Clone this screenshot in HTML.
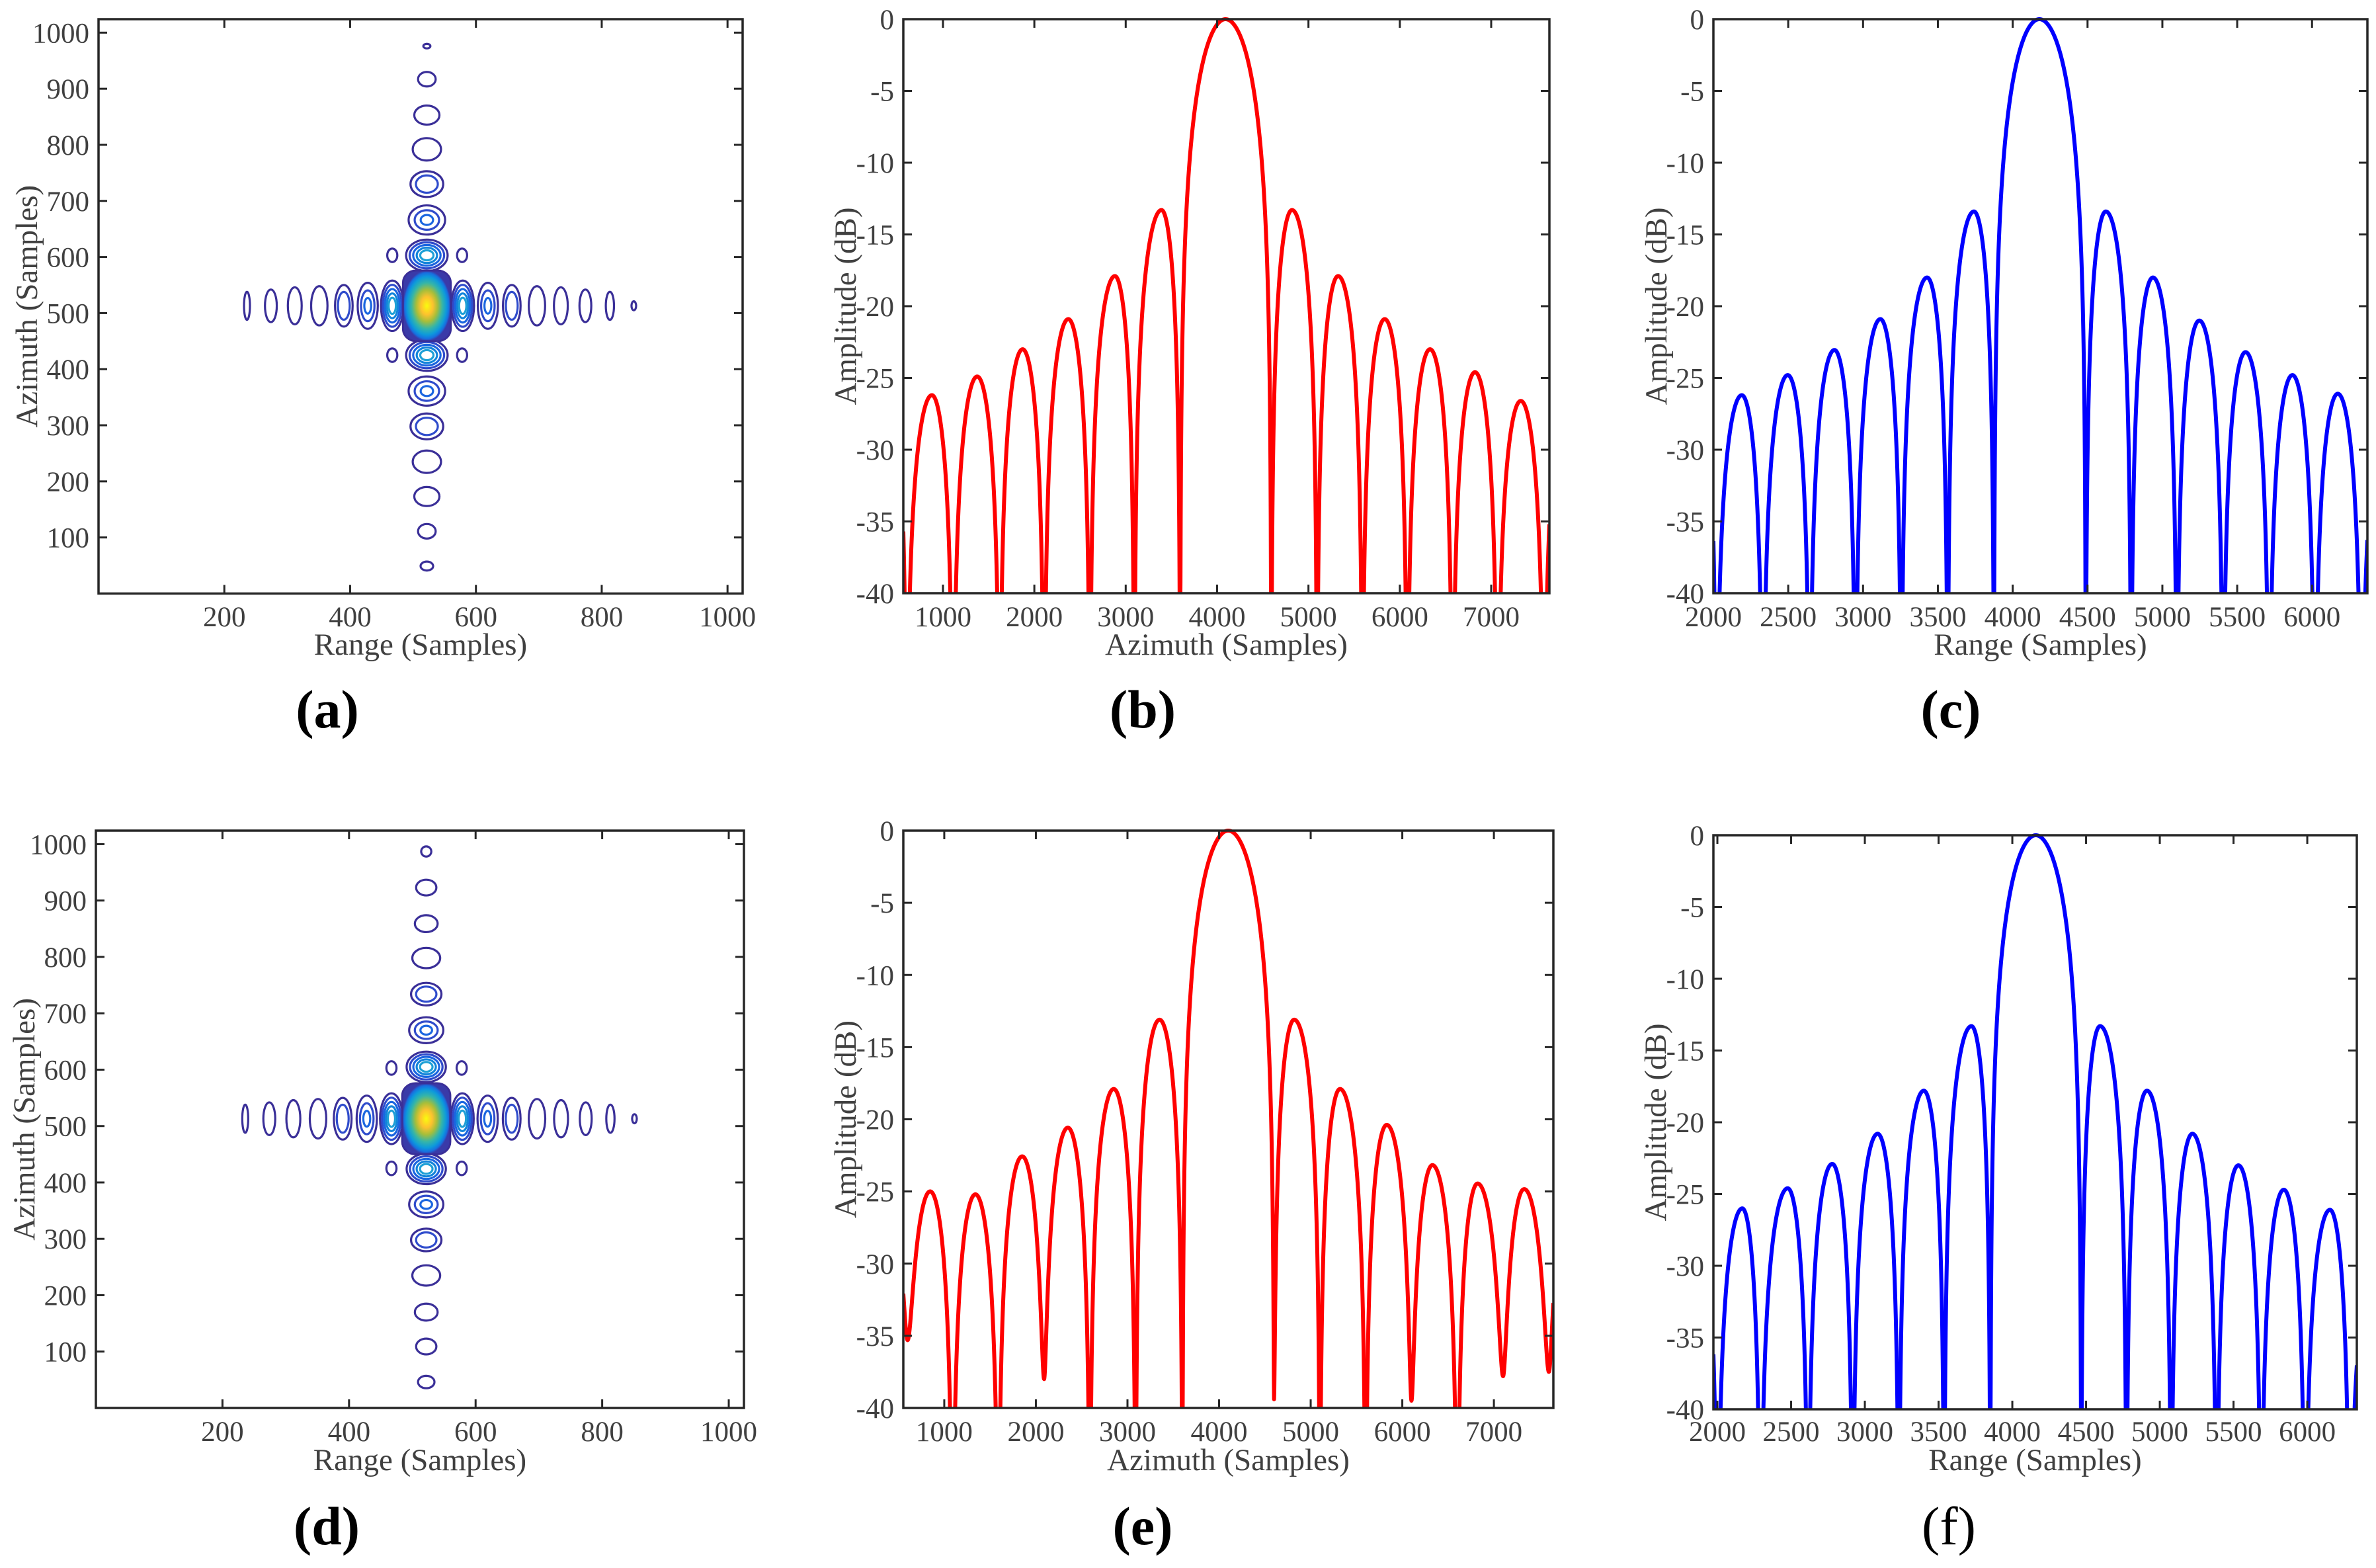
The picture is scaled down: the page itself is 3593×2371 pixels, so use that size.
<!DOCTYPE html>
<html><head><meta charset="utf-8">
<style>
html,body{margin:0;padding:0;background:#fff;}
svg{display:block;}
text{font-family:"Liberation Serif",serif;}
.tick{font-size:43px;fill:#404040;}
.title{font-size:47px;fill:#404040;}
.plabel{font-size:82px;fill:#000;}
</style></head>
<body>
<svg id="fig" width="3593" height="2371" viewBox="0 0 3593 2371" xmlns="http://www.w3.org/2000/svg">
<defs>
<radialGradient id="blobGrad" cx="50%" cy="50%" r="50%">
<stop offset="0" stop-color="#f9fb0e"/>
<stop offset="0.25" stop-color="#fdc22e"/>
<stop offset="0.45" stop-color="#a6be3a"/>
<stop offset="0.65" stop-color="#35b5a8"/>
<stop offset="0.82" stop-color="#0d9adb"/>
<stop offset="0.93" stop-color="#1770e0"/>
<stop offset="1" stop-color="#3a3aa8"/>
</radialGradient>
</defs>
</svg>
<script>
// ---------- data: contour panels ----------
const hX     = [236,274,312,351,390,428,467,579,619,657,697,735,774,813,851];
const hRx    = [4.7,9.4,11,13,14,16,18,18,16,14,13,11,9.4,6.5,3.7];
const hRy    = [25,29,33,35,37,41,45,45,41,37,35,33,29,25,8];
const hRings = [1,1,1,1,2,3,5,5,3,2,1,1,1,1,1];
const vY     = [976,917,853,792,730,666,603,425,361,298,235,173,111,49];
const vRx    = [5.6,14,20,22.5,26,29,33,33,29,26,22.5,20,14,10];
const vRy    = [4.1,13,17,20,23,26,28,28,26,23,20,17,13,8];
const vRings = [1,1,1,1,2,3,5,5,3,2,1,1,1,1];
const vYd    = [987,923,859,798,734,670,605,424,361,298,235,170,109,46];
const vRxD   = [8,16,18,22,24,27,31,31,27,24,22,18,16,13];
const vRyD   = [9,14,15,18,20,23,27,27,23,20,18,15,14,11];
const diagX  = [467,578,467,578];
const diagY  = [603,603,425,425];
const centerPt = [522,513];

// ---------- data: cut profiles ----------
const bNulls = [91,601,1111,1621,2108,2609,3095,3596,4593,5094,5590,6081,6577,7069,7579,8090];
const bPeakX = [346,879,1375,1872,2372,2882,3392,4092,4820,5325,5835,6331,6823,7324,7830];
const bPeakDb= [-22.3,-26.2,-24.9,-23.0,-20.9,-17.9,-13.3,0,-13.3,-17.9,-20.9,-23.0,-24.6,-26.6,-26.2];
const eNulls = [100,600,1090,1590,2090,2590,3090,3600,4600,5100,5600,6100,6600,7100,7600,8100];
const eNullDb= [-60,-35.3,-60,-60,-38,-60,-60,-60,-39.4,-60,-60,-39.5,-60,-37.8,-37.5,-60];
const ePeakX = [350,850,1340,1850,2350,2850,3350,4100,4820,5320,5830,6330,6820,7330,7850];
const ePeakDb= [-24,-25.1,-25.2,-22.6,-20.6,-17.9,-13.1,0,-13.1,-17.9,-20.4,-23.2,-24.5,-24.9,-24];
const cNulls = [1709,2019,2331,2644,2950,3256,3566,3875,4488,4791,5097,5406,5713,6019,6331,6641];
const cPeakX = [1864,2190,2497,2809,3116,3428,3741,4178,4622,4937,5247,5556,5869,6172,6486];
const cPeakDb= [-22,-26.2,-24.8,-23.05,-20.9,-18.0,-13.4,0,-13.4,-18.0,-21.0,-23.2,-24.8,-26.1,-28];
const fNulls = [1690,2000,2292,2615,2918,3231,3538,3851,4467,4774,5077,5385,5687,5985,6287,6590];
const fPeakX = [1845,2169,2477,2779,3087,3400,3723,4159,4595,4913,5221,5533,5841,6154,6440];
const fPeakDb= [-24.8,-26.0,-24.6,-22.9,-20.8,-17.8,-13.3,0,-13.3,-17.8,-20.8,-23.0,-24.7,-26.1,-30.6];

const ampTicks = [0,-5,-10,-15,-20,-25,-30,-35,-40];
const sampTicks = [200,400,600,800,1000];
const sampYTicks = [100,200,300,400,500,600,700,800,900,1000];
const azTicks = [1000,2000,3000,4000,5000,6000,7000];
const rgTicks = [2000,2500,3000,3500,4000,4500,5000,5500,6000];

const NS = "http://www.w3.org/2000/svg";
const svg = document.getElementById('fig');
function el(tag, attrs, parent){
  const e = document.createElementNS(NS, tag);
  for (const k in attrs) e.setAttribute(k, attrs[k]);
  (parent||svg).appendChild(e);
  return e;
}
function makeScale(p){
  return {
    x: v => p.L + (v - p.xmin) / (p.xmax - p.xmin) * (p.R - p.L),
    y: v => p.B - (v - p.ymin) / (p.ymax - p.ymin) * (p.B - p.T),
    p: p
  };
}
function drawAxes(g, s, xt, yt, xTitle, yTitle, yTitleX, xLabY, xTitleY, yLabGap){
  const p = s.p;
  const tl = 13;
  xt.forEach(v=>{
    const x = s.x(v);
    const t1 = el('line',{x1:x,y1:p.B,x2:x,y2:p.B-tl,stroke:'#262626','stroke-width':3},g);
    
    
    const t2 = el('line',{x1:x,y1:p.T,x2:x,y2:p.T+tl,stroke:'#262626','stroke-width':3},g);
    
    
    const tx = el('text',{x:x,y:xLabY,'text-anchor':'middle',class:'tick'},g);
    
    
    tx.textContent = v;
  });
  yt.forEach(v=>{
    const y = s.y(v);
    const t1 = el('line',{x1:p.L,y1:y,x2:p.L+tl,y2:y,stroke:'#262626','stroke-width':3},g);
    
    
    const t2 = el('line',{x1:p.R,y1:y,x2:p.R-tl,y2:y,stroke:'#262626','stroke-width':3},g);
    
    
    const tx = el('text',{x:p.L-yLabGap,y:y+15,'text-anchor':'end',class:'tick'},g);
    
    
    tx.textContent = v;
  });
  const box = el('rect',{x:p.L,y:p.T,width:p.R-p.L,height:p.B-p.T,fill:'none',stroke:'#262626','stroke-width':3.5},g);
  
  
  const xtTitle = el('text',{x:(p.L+p.R)/2,y:xTitleY,'text-anchor':'middle',class:'title'},g);
  
  
  xtTitle.textContent = xTitle;
  const cy = (p.T+p.B)/2;
  const ytTitle = el('text',{x:yTitleX,y:cy,'text-anchor':'middle',class:'title',transform:`rotate(-90 ${yTitleX} ${cy})`,dy:'16'},g);
  
  
  ytTitle.textContent = yTitle;
}
function panelLabel(txt, x, y, bold){
  const t = el('text',{x:x,y:y,'text-anchor':'middle',class:'plabel','font-weight':bold?'bold':'normal'});
  
  
  t.textContent = txt;
}
const ringColors = ['#3a2f98','#2f4ccc','#1a66e0','#1284da','#1ea0d6'];
function ellipseSet(g, s, cx, cy, rx, ry, rings){
  const kx = (s.p.R-s.p.L)/(s.p.xmax-s.p.xmin), ky = (s.p.B-s.p.T)/(s.p.ymax-s.p.ymin);
  for (let k=0;k<rings;k++){
    const f = 1 - k*(rings>3?0.17:0.33);
    const e = el('ellipse',{cx:s.x(cx),cy:s.y(cy),rx:rx*kx*f,ry:ry*ky*f,fill:'none',stroke:ringColors[Math.min(k,4)],'stroke-width':3.2},g);
    
    
  }
}
function contourPanel(id, p, vYs, vRxs, vRys, labs){
  const s = makeScale(p);
  const g = el('g',{});
  
  
  for (let i=0;i<hX.length;i++) ellipseSet(g, s, hX[i], centerPt[1], hRx[i], hRy[i], hRings[i]);
  for (let i=0;i<vYs.length;i++) ellipseSet(g, s, centerPt[0], vYs[i], vRxs[i], vRys[i], vRings[i]);
  for (let i=0;i<diagX.length;i++) ellipseSet(g, s, diagX[i], diagY[i], 8, 12, 1);
  const kx = (p.R-p.L)/(p.xmax-p.xmin), ky = (p.B-p.T)/(p.ymax-p.ymin);
  const w = 38*kx, h = 63*ky;
  const blob = el('rect',{x:s.x(centerPt[0])-w,y:s.y(centerPt[1])-h,width:2*w,height:2*h,rx:w*0.55,ry:h*0.35,fill:'url(#blobGrad)',stroke:'#3a2f98','stroke-width':3},g);
  
  
  drawAxes(g, s, sampTicks, sampYTicks, 'Range (Samples)', 'Azimuth (Samples)', labs.ytx, labs.xly, labs.xty, 14);
}
function profileValue(x, nulls, nullDb, peakX, peakDb){
  let i = 0;
  while (i < nulls.length-2 && x > nulls[i+1]) i++;
  const n0 = nulls[i], n1 = nulls[i+1], c = peakX[i];
  let u;
  if (x <= c) u = 0.5*(x-n0)/(c-n0); else u = 0.5 + 0.5*(x-c)/(n1-c);
  u = Math.max(0, Math.min(1, u));
  const a = Math.pow(10, peakDb[i]/20) * Math.abs(Math.sin(Math.PI*u));
  const d0 = nullDb ? nullDb[i] : -70, d1 = nullDb ? nullDb[i+1] : -70;
  const f0 = Math.pow(10,d0/20)*Math.pow(Math.cos(Math.PI*u/2),2);
  const f1 = Math.pow(10,d1/20)*Math.pow(Math.sin(Math.PI*u/2),2);
  const f = Math.max(f0, f1);
  const tot = Math.sqrt(a*a + f*f);
  return Math.max(-41, 20*Math.log10(Math.max(tot,1e-6)));
}
let clipN = 0;
function profilePanel(id, p, nulls, nullDb, peakX, peakDb, color, xt, xTitle, labs){
  const s = makeScale(p);
  const g = el('g',{});
  
  
  const cid = 'clip'+(clipN++);
  const cp = el('clipPath',{id:cid},svg.querySelector('defs'));
  el('rect',{x:p.L,y:p.T-6,width:p.R-p.L,height:p.B-p.T+6},cp);
  let d = '';
  const N = 3000;
  for (let k=0;k<=N;k++){
    const x = p.xmin + (p.xmax-p.xmin)*k/N;
    const v = profileValue(x, nulls, nullDb, peakX, peakDb);
    d += (k?'L':'M') + s.x(x).toFixed(2) + ' ' + s.y(v).toFixed(2);
  }
  const path = el('path',{d:d,fill:'none',stroke:color,'stroke-width':6,'stroke-linejoin':'round','clip-path':`url(#${cid})`},g);
  
  
  drawAxes(g, s, xt, ampTicks, xTitle, 'Amplitude (dB)', labs.ytx, labs.xly, labs.xty, 14);
}

// ---------- panels ----------
contourPanel('panel-a',{L:149,R:1123,T:29,B:897.5,xmin:0,xmax:1024,ymin:0,ymax:1024}, vY, vRx, vRy, {ytx:40,xly:947,xty:990});
profilePanel('panel-b',{L:1366,R:2343,T:29,B:897,xmin:566,xmax:7637,ymin:-40,ymax:0}, bNulls, null, bPeakX, bPeakDb, '#ff0000', azTicks, 'Azimuth (Samples)', {ytx:1278,xly:947,xty:990});
profilePanel('panel-c',{L:2591,R:3580,T:29,B:897,xmin:2000,xmax:6370,ymin:-40,ymax:0}, cNulls, null, cPeakX, cPeakDb, '#0000ff', rgTicks, 'Range (Samples)', {ytx:2504,xly:947,xty:990});
contourPanel('panel-d',{L:145,R:1125,T:1256,B:2129,xmin:0,xmax:1024,ymin:0,ymax:1024}, vYd, vRxD, vRyD, {ytx:36,xly:2179,xty:2223});
profilePanel('panel-e',{L:1366,R:2349,T:1256,B:2129,xmin:553,xmax:7649,ymin:-40,ymax:0}, eNulls, eNullDb, ePeakX, ePeakDb, '#ff0000', azTicks, 'Azimuth (Samples)', {ytx:1278,xly:2179,xty:2223});
profilePanel('panel-f',{L:2591,R:3564,T:1263,B:2131,xmin:1973,xmax:6336,ymin:-40,ymax:0}, fNulls, null, fPeakX, fPeakDb, '#0000ff', rgTicks, 'Range (Samples)', {ytx:2503,xly:2179,xty:2223});

panelLabel('(a)', 495, 1100, true);
panelLabel('(b)', 1728, 1100, true);
panelLabel('(c)', 2950, 1100, true);
panelLabel('(d)', 494, 2335, true);
panelLabel('(e)', 1728, 2335, true);
panelLabel('(f)', 2947, 2335, false);
</script>
</body></html>
